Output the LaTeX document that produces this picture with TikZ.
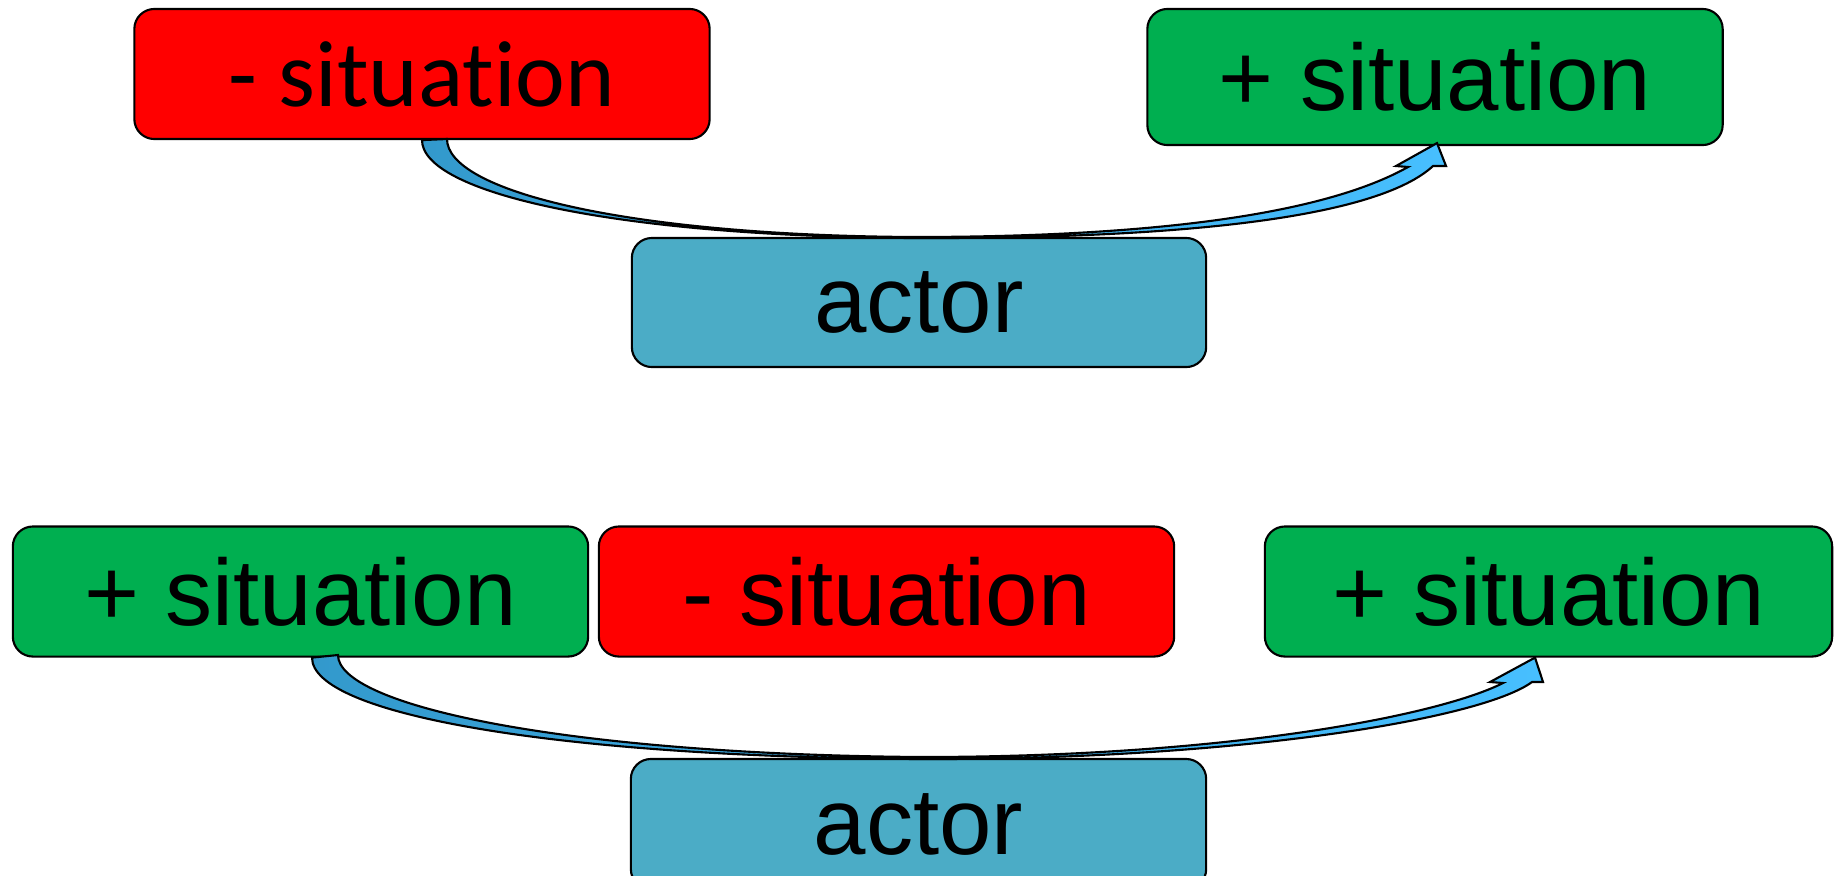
\documentclass[tikz,border=0pt]{standalone}
\usepackage{fontspec}
\setmainfont{Liberation Sans}
\newfontfamily\calibri[Ligatures=NoCommon]{Carlito}
\usepackage{xcolor}
\usepackage{tikz}

\definecolor{negred}{HTML}{FF0000}
\definecolor{posgreen}{HTML}{00AF50}
\definecolor{actorblue}{HTML}{4BACC6}
\definecolor{banddark}{HTML}{3399CC}
\definecolor{bandlight}{HTML}{47BFFF}

\begin{document}
\begin{tikzpicture}[x=0.01cm,y=-0.01cm]
		\tikzstyle{every node}+=[inner sep=0pt]
		\tikzstyle{sit}=[draw=black, line width=0.6pt, rounded corners=0.2cm, minimum width=5.75cm, minimum height=1.3cm, font=\fontsize{26.8pt}{32pt}\selectfont]
		\tikzstyle{band}=[draw=black, line width=0.6pt, line join=miter, left color=banddark, right color=bandlight]
		\useasboundingbox (0,0) rectangle (1834,875);
		\node [sit, fill=negred, font=\fontsize{26.8pt}{32pt}\selectfont\calibri] (neg1) at (422,74) {- situation};
		\node [sit, fill=posgreen, minimum height=1.36cm] (pos1) at (1435,77) {+ situation};
		\node [sit, fill=actorblue, minimum width=5.74cm, minimum height=1.29cm] (act1) at (919,302.5) {actor};
		\node [sit, fill=posgreen] (pos2) at (300.5,591.5) {+ situation};
		\node [sit, fill=negred] (neg2) at (886.5,591.5) {- situation};
		\node [sit, fill=posgreen, minimum width=5.67cm] (pos3) at (1548.5,591.5) {+ situation};
		\node [sit, fill=actorblue] (act2) at (918.5,824) {actor};
		\draw [band] (neg1.south) .. controls (422,192) and (610,236) .. (912,238)
			.. controls (1200,239) and (1380,215) .. (1433,166)
			-- (1446,166) -- ([yshift=0.03cm]pos1.south -| 1437,0) -- (1396,166) -- (1408,167)
			.. controls (1340,205) and (1200,237) .. (912,237)
			.. controls (620,235) and (447,190) .. (447,139) -- cycle;
		\draw [band] ([xshift=0.115cm]pos2.south) .. controls (312,715) and (560,757) .. (920,759)
			.. controls (1230,760) and (1480,720) .. (1532,682)
			-- (1543,682) -- (pos3.south -| 1535,0) -- (1490,682) -- (1503,683)
			.. controls (1440,715) and (1230,757) .. (920,757)
			.. controls (560,754) and (338,705) .. (338,655) -- cycle;
	\end{tikzpicture}
\end{document}
